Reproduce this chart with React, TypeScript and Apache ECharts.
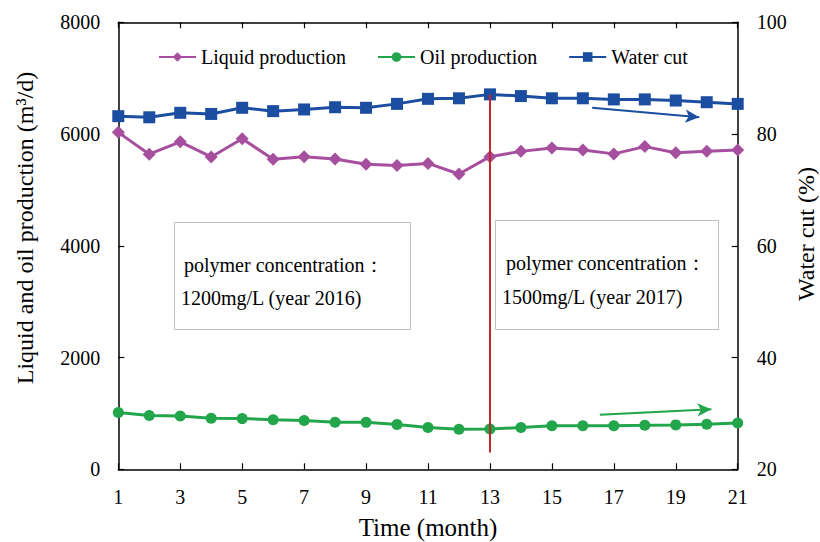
import React, { useEffect, useRef } from "react";
import * as echarts from "echarts";

const months = [1, 2, 3, 4, 5, 6, 7, 8, 9, 10, 11, 12, 13, 14, 15, 16, 17, 18, 19, 20, 21];
const liquid = [6030, 5640, 5860, 5590, 5915, 5550, 5595, 5555, 5460, 5435, 5475, 5285, 5595, 5690, 5750, 5715, 5645, 5775, 5665, 5690, 5715];
const oil = [1015, 962, 952, 912, 907, 887, 875, 843, 840, 802, 748, 718, 720, 748, 780, 780, 780, 787, 795, 806, 830];
const waterCut = [83.2, 83.0, 83.8, 83.6, 84.7, 84.1, 84.4, 84.8, 84.7, 85.4, 86.3, 86.4, 87.1, 86.8, 86.4, 86.4, 86.2, 86.2, 86.0, 85.7, 85.4];

const seriesNames = ["Liquid production", "Oil production", "Water cut"];
const boxTexts = [
  ["polymer concentration：", "1200mg/L (year 2016)"],
  ["polymer concentration：", "1500mg/L (year 2017)"],
];
// annotation lines in data coordinates
const switchLine = [[13, 6710], [13, 300]];
const waterArrow = [[16.3, 84.7], [19.76, 83.0]];
const oilArrow = [[16.55, 975], [20.15, 1075]];

const FONT = "'Liberation Serif', 'Times New Roman', serif";
const C_LIQ = "#a64f9e";
const C_OIL = "#22a54b";
const C_WC = "#1b4ea0";
const C_RED = "#c0282d";

export default function App() {
  const ref = useRef<HTMLDivElement>(null);
  useEffect(() => {
    if (!ref.current) return;
    const chart = echarts.init(ref.current, null, { renderer: "svg" });
    const axisLabel = { color: "#000", fontSize: 20, fontFamily: FONT };
    const axisLine = { show: true, lineStyle: { color: "#000", width: 1.5 } };
    const axisTick = { show: true, inside: true, length: 6, lineStyle: { color: "#000", width: 1.2 } };
    const pair = (i: number) => months.map((m, j) => [m, [liquid, oil, waterCut][i][j]]);
    chart.setOption({
      animation: false,
      textStyle: { fontFamily: FONT },
      grid: {
        left: 118.3,
        right: 82.3,
        top: 22.3,
        bottom: 72.7,
        show: false,
        containLabel: false,
        outerBoundsMode: "none",
      },
      legend: {
        data: seriesNames,
        left: 153,
        top: 42,
        itemWidth: 37,
        itemHeight: 12,
        itemGap: 31,
        textStyle: { color: "#000", fontSize: 20, fontFamily: FONT },
      },
      xAxis: [
        {
          type: "value",
          min: 1,
          max: 21,
          interval: 2,
          axisLine,
          axisTick,
          axisLabel: { ...axisLabel, margin: 18 },
          splitLine: { show: false },
          name: "Time (month)",
          nameLocation: "middle",
          nameGap: 46,
          nameTextStyle: { color: "#000", fontSize: 25, fontFamily: FONT },
        },
        {
          type: "value",
          position: "top",
          min: 1,
          max: 21,
          interval: 2,
          axisLine,
          axisTick,
          axisLabel: { show: false },
          splitLine: { show: false },
        },
      ],
      yAxis: [
        {
          type: "value",
          min: 0,
          max: 8000,
          interval: 2000,
          axisLine,
          axisTick,
          axisLabel: { ...axisLabel, margin: 18, formatter: (v: number) => String(v) },
          splitLine: { show: false },
        },
        {
          type: "value",
          min: 20,
          max: 100,
          interval: 20,
          position: "right",
          axisLine,
          axisTick,
          axisLabel: { ...axisLabel, margin: 19, formatter: (v: number) => String(v) },
          splitLine: { show: false },
        },
      ],
      series: [
        {
          name: seriesNames[0],
          type: "line",
          data: pair(0),
          symbol: "diamond",
          symbolSize: 13,
          itemStyle: { color: C_LIQ },
          lineStyle: { color: C_LIQ, width: 3 },
          z: 3,
          markLine: {
            silent: true,
            symbol: ["none", "none"],
            label: { show: false },
            lineStyle: { color: C_RED, width: 2, type: "solid" },
            data: [[{ coord: switchLine[0] }, { coord: switchLine[1] }]],
          },
        },
        {
          name: seriesNames[1],
          type: "line",
          data: pair(1),
          symbol: "circle",
          symbolSize: 11,
          itemStyle: { color: C_OIL },
          lineStyle: { color: C_OIL, width: 3 },
          z: 3,
          markLine: {
            silent: true,
            symbol: ["none", "arrow"],
            symbolSize: [10, 14],
            label: { show: false },
            lineStyle: { color: C_OIL, width: 2, type: "solid" },
            data: [[{ coord: oilArrow[0] }, { coord: oilArrow[1] }]],
          },
        },
        {
          name: seriesNames[2],
          type: "line",
          yAxisIndex: 1,
          data: pair(2),
          symbol: "rect",
          symbolSize: 12,
          itemStyle: { color: C_WC },
          lineStyle: { color: C_WC, width: 3 },
          z: 4,
          markLine: {
            silent: true,
            symbol: ["none", "arrow"],
            symbolSize: [10, 14],
            label: { show: false },
            lineStyle: { color: C_WC, width: 2, type: "solid" },
            data: [[{ coord: waterArrow[0] }, { coord: waterArrow[1] }]],
          },
        },
      ],
      graphic: [
        {
          type: "text",
          x: 25,
          y: 228,
          rotation: Math.PI / 2,
          style: {
            text: "Liquid and oil production (m³/d)",
            fontSize: 24,
            fontFamily: FONT,
            fill: "#000",
            textAlign: "center",
            textVerticalAlign: "middle",
          },
        },
        {
          type: "text",
          x: 806,
          y: 234,
          rotation: Math.PI / 2,
          style: {
            text: "Water cut (%)",
            fontSize: 24,
            fontFamily: FONT,
            fill: "#000",
            textAlign: "center",
            textVerticalAlign: "middle",
          },
        },
        {
          type: "rect",
          shape: { x: 174.5, y: 222.5, width: 236, height: 107 },
          style: { fill: "#fff", stroke: "#bfbfbf", lineWidth: 1 },
          z: 1,
        },
        {
          type: "text",
          x: 184,
          y: 265,
          style: { text: boxTexts[0][0], fontSize: 20, fontFamily: FONT, fill: "#000", textVerticalAlign: "middle" },
          z: 2,
        },
        {
          type: "text",
          x: 181,
          y: 298,
          style: { text: boxTexts[0][1], fontSize: 20, fontFamily: FONT, fill: "#000", textVerticalAlign: "middle" },
          z: 2,
        },
        {
          type: "rect",
          shape: { x: 495.5, y: 220.5, width: 223, height: 109 },
          style: { fill: "#fff", stroke: "#bfbfbf", lineWidth: 1 },
          z: 1,
        },
        {
          type: "text",
          x: 506,
          y: 263,
          style: { text: boxTexts[1][0], fontSize: 20, fontFamily: FONT, fill: "#000", textVerticalAlign: "middle" },
          z: 2,
        },
        {
          type: "text",
          x: 502,
          y: 297,
          style: { text: boxTexts[1][1], fontSize: 20, fontFamily: FONT, fill: "#000", textVerticalAlign: "middle" },
          z: 2,
        },
      ],
    });
    return () => chart.dispose();
  }, []);
  return (
    <div
      ref={ref}
      style={{ position: "absolute", left: 0, top: 0, width: 820, height: 542, background: "#fff" }}
    />
  );
}
